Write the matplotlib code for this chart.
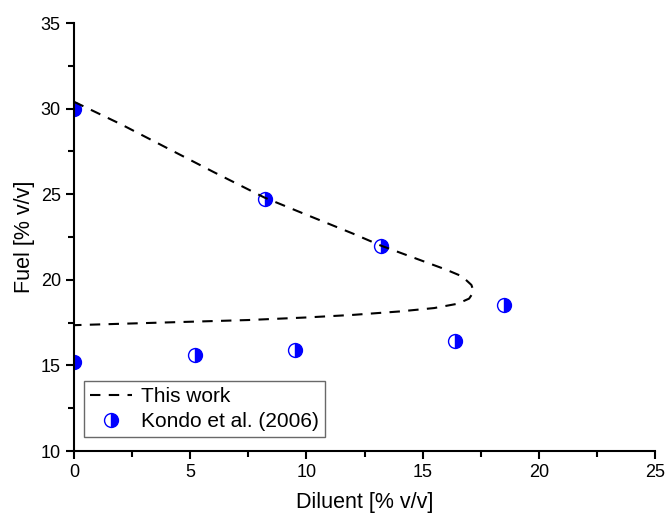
import matplotlib
matplotlib.use("Agg")
import matplotlib.pyplot as plt
from matplotlib.ticker import MultipleLocator

plt.rcParams['font.family'] = ['Liberation Sans', 'DejaVu Sans']

# model curve (this work)
curve_x = [0.0, 2.0, 4.0, 6.0, 8.2, 10.0, 12.0, 13.2, 15.0, 16.0, 16.7, 17.1, 17.2,
           17.0, 16.5, 15.5, 14.0, 12.0, 10.0, 7.5, 5.0, 2.5, 0.0]
curve_y = [30.4, 29.1, 27.7, 26.3, 24.8, 23.8, 22.7, 22.0, 21.1, 20.6, 20.2, 19.7, 19.3,
           18.9, 18.6, 18.35, 18.15, 17.95, 17.8, 17.65, 17.55, 17.45, 17.35]

# Kondo et al. (2006)
kondo_x = [0.0, 8.2, 13.2, 18.5, 16.4, 9.5, 5.2, 0.0]
kondo_y = [30.0, 24.7, 22.0, 18.5, 16.4, 15.9, 15.6, 15.2]

fig = plt.figure(figsize=(6.66, 5.14), dpi=100)
ax = fig.add_axes([74/666, 63/514, 581/666, 428/514])

ax.plot(curve_x, curve_y, color='black', linestyle=(0, (5, 4)), linewidth=1.5, label='This work')
pts, = ax.plot(kondo_x, kondo_y, linestyle='none', marker='o', markersize=10, fillstyle='right',
               color='blue', markerfacecoloralt='white', markeredgecolor='blue', markeredgewidth=1,
               label='Kondo et al. (2006)', zorder=1.5)
pts.set_clip_path(ax.patch)

ax.set_xlim(0, 25)
ax.set_ylim(10, 35)
ax.xaxis.set_major_locator(MultipleLocator(5))
ax.xaxis.set_minor_locator(MultipleLocator(2.5))
ax.yaxis.set_major_locator(MultipleLocator(5))
ax.yaxis.set_minor_locator(MultipleLocator(2.5))
ax.spines['top'].set_visible(False)
ax.spines['right'].set_visible(False)
ax.spines['left'].set_linewidth(1.5)
ax.spines['bottom'].set_linewidth(1.5)
ax.tick_params(which='major', direction='out', length=6, width=1.5, labelsize=13)
ax.tick_params(which='minor', direction='out', length=4, width=1.5)

ax.set_xlabel('Diluent [% v/v]', fontsize=15.5, labelpad=8)
ax.set_ylabel('Fuel [% v/v]', fontsize=15.5, labelpad=4)

leg = ax.legend(loc='lower left', bbox_to_anchor=(0.017, 0.032), fontsize=15, frameon=True,
                fancybox=False, edgecolor='#444444', handlelength=2.0, borderpad=0.3,
                labelspacing=0.3, handletextpad=0.45, borderaxespad=0)
leg.get_frame().set_linewidth(1)

fig.savefig('out.png', dpi=100)
